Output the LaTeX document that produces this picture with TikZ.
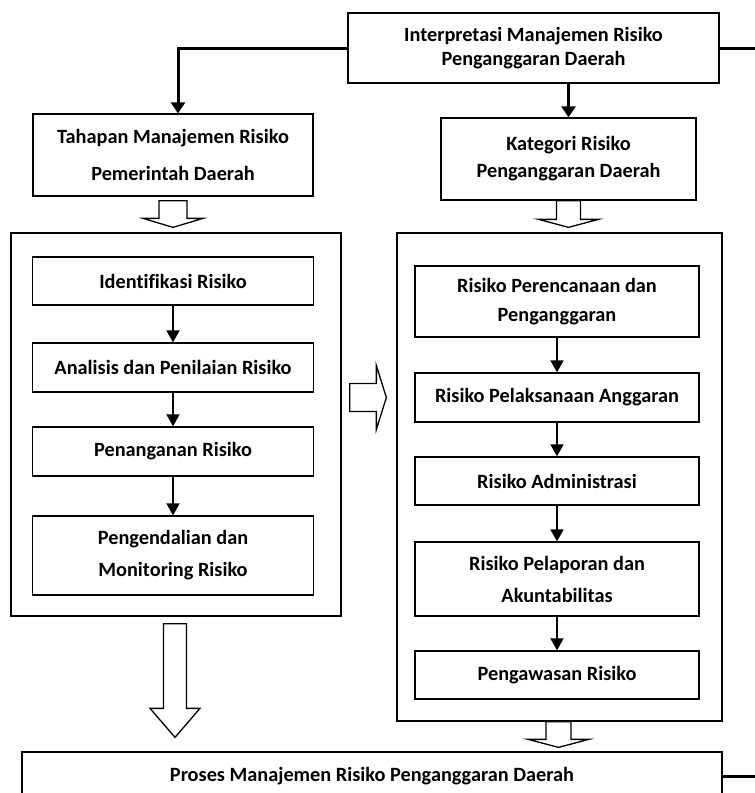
\documentclass[tikz,border=0pt]{standalone}
\usepackage{fontspec}
\setmainfont{Carlito}[Ligatures=NoCommon]
\usetikzlibrary{arrows.meta, calc, positioning}
\tikzset{
    normal/.style={draw, line width=1.3pt},
    b/.style={style=normal, align=center, inner sep=0pt, font=\fontsize{20.3}{24}\selectfont\bfseries}, % boxes with text
    grp/.style={style=normal, inner sep=0pt}, % frames round a group of boxes
    e/.style={line width=1.8pt, -{Triangle[width=13pt, length=12pt]}}, % small arrows in a group
    te/.style={line width=3pt, -{Triangle[width=14pt, length=11pt]}}, % thick arrows from the top
    rim/.style={line width=3pt}, % lines running off to the right
    hollow/.style={style=normal, fill=white, line join=miter} % block arrows
}
% block arrow from #1 down to the tip #2: shaft half width, head half width, head length
\newcommand{\hollowdown}[5]{
  \draw[hollow] ($(#1)+(-#3,0)$) -- ($(#1|-#2)+(-#3,-#5)$) -- ($(#1|-#2)+(-#4,-#5)$) -- (#1|-#2)
    -- ($(#1|-#2)+(#4,-#5)$) -- ($(#1|-#2)+(#3,-#5)$) -- ($(#1)+(#3,0)$) -- cycle;
}
% block arrow from #1 right to the tip #2
\newcommand{\hollowright}[5]{
  \draw[hollow] ($(#1)+(0,-#3)$) -- ($(#2|-#1)+(-#5,-#3)$) -- ($(#2|-#1)+(-#5,-#4)$) -- (#2|-#1)
    -- ($(#2|-#1)+(-#5,#4)$) -- ($(#2|-#1)+(-#5,#3)$) -- ($(#1)+(0,#3)$) -- cycle;
}

\begin{document}
\begin{tikzpicture}[x=1pt, y=-1pt]
  \useasboundingbox (0,0) rectangle (755,793);
  \clip (0,0) rectangle (755,793);

  % top row
  \node[b, minimum width=371pt, minimum height=70pt] (interp) at (533.5,48) {Interpretasi Manajemen Risiko\\Penganggaran Daerah};
  \node[b, minimum width=280pt, minimum height=82pt] (tahapan) at (173,155) {Tahapan Manajemen Risiko\\[13pt]Pemerintah Daerah};
  \node[b, minimum width=255pt, minimum height=82pt] (kategori) at (568.5,159) {Kategori Risiko\\[3pt]Penganggaran Daerah};

  % groups
  \node[grp, minimum width=330pt, minimum height=383pt] (lgroup) at (176,424.5) {};
  \node[grp, minimum width=325pt, minimum height=488pt] (rgroup) at (559.5,477) {};

  % left steps
  \node[b, minimum width=281pt, minimum height=48pt] (ident) at (173,281) {Identifikasi Risiko};
  \node[b, minimum width=281pt, minimum height=49pt] (analisis) at (173,367.5) {Analisis dan Penilaian Risiko};
  \node[b, minimum width=281pt, minimum height=49pt] (penanganan) at (173,451.5) {Penanganan Risiko};
  \node[b, minimum width=281pt, minimum height=79pt] (pengendalian) at (173,555.5) {Pengendalian dan\\[8pt]Monitoring Risiko};

  % right categories
  \node[b, minimum width=284pt, minimum height=71pt] (perencanaan) at (557,301.5) {Risiko Perencanaan dan\\[5pt]Penganggaran};
  \node[b, minimum width=284pt, minimum height=49pt] (pelaksanaan) at (557,397.5) {Risiko Pelaksanaan Anggaran};
  \node[b, minimum width=284pt, minimum height=48pt] (administrasi) at (557,481) {Risiko Administrasi};
  \node[b, minimum width=284pt, minimum height=74pt] (pelaporan) at (557,579) {Risiko Pelaporan dan\\[8pt]Akuntabilitas};
  \node[b, minimum width=284pt, minimum height=48pt] (pengawasan) at (557,675) {Pengawasan Risiko};

  % bottom
  \node[b, minimum width=700pt, minimum height=48pt] (proses) at (372,776) {Proses Manajemen Risiko Penganggaran Daerah};

  \coordinate (rim1) at (760,48);
  \coordinate (rim2) at (760,776);

  \draw[te] (interp.west) -| ([xshift=5pt]tahapan.north);
  \draw[te] (interp.south -| kategori.north) -- (kategori.north);
  \draw[rim] (interp.east) -- (rim1);
  \draw[rim] (proses.east) -- (rim2);

  \draw[e] (ident) -- (analisis);
  \draw[e] (analisis) -- (penanganan);
  \draw[e] (penanganan) -- (pengendalian);
  \draw[e] (perencanaan) -- (pelaksanaan);
  \draw[e] (pelaksanaan) -- (administrasi);
  \draw[e] (administrasi) -- (pelaporan);
  \draw[e] (pelaporan) -- (pengawasan);

  % block arrows
  \coordinate (ta) at ($(tahapan.south)+(0,4)$);
  \coordinate (tb) at ($(lgroup.north)+(0,-5)$);
  \hollowdown{ta}{tb}{14}{30}{9}
  \coordinate (ka) at (kategori.south);
  \coordinate (kb) at ($(rgroup.north)+(0,-5)$);
  \hollowdown{ka}{kb}{12}{30}{8}
  \coordinate (la) at ($(lgroup.south)+(-1,7)$);
  \coordinate (lb) at ($(proses.north)+(0,-14)$);
  \hollowdown{la}{lb}{11.5}{25}{29}
  \coordinate (ra) at ($(rgroup.south)+(-1,0)$);
  \coordinate (rb) at ($(proses.north)+(0,-4)$);
  \hollowdown{ra}{rb}{12.5}{30.5}{8}
  \coordinate (ma) at ($(lgroup.east |- pelaksanaan)+(8,0)$);
  \coordinate (mb) at ($(rgroup.west)+(-10,0)$);
  \hollowright{ma}{mb}{14}{32}{10}
\end{tikzpicture}
\end{document}
